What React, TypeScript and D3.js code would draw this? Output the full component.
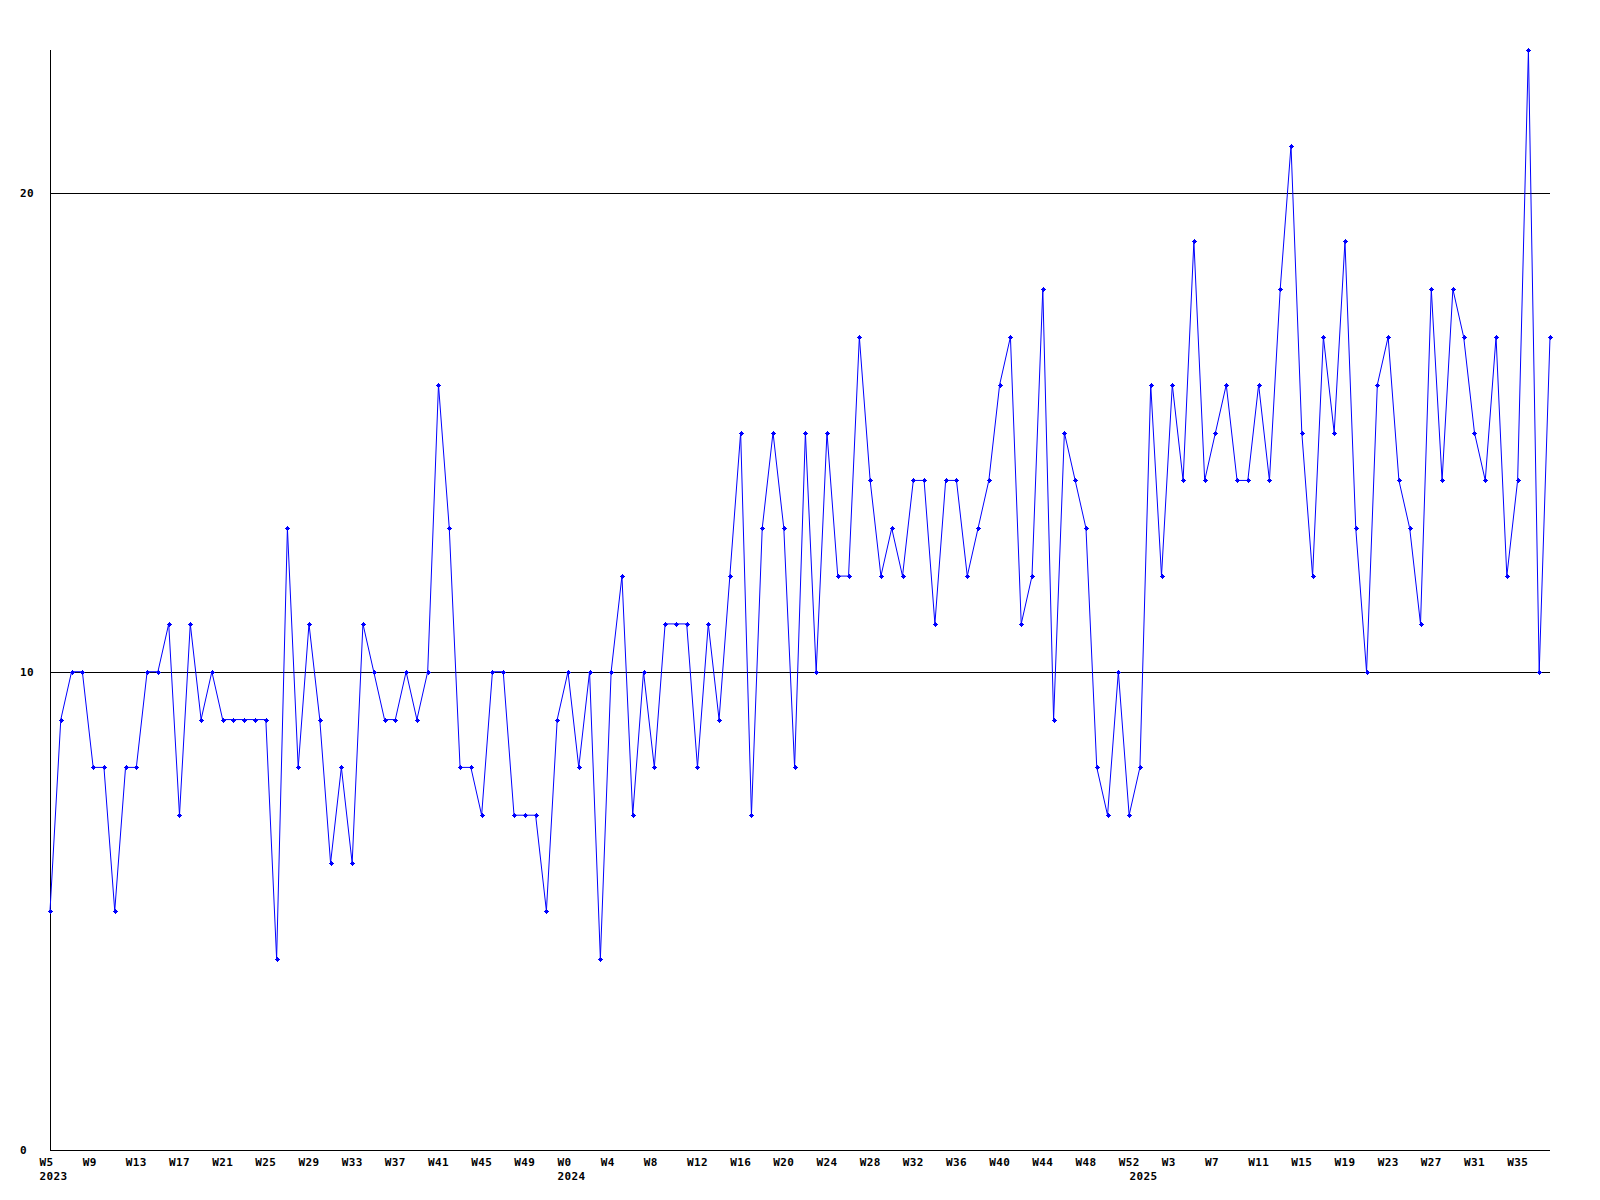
import React from "react";
import * as d3 from "d3";

// Weekly counts, one per week starting W5 2023
const values: number[] = [
  5, 9, 10, 10, 8, 8, 5, 8, 8, 10, 10, 11, 7, 11, 9, 10, 9, 9, 9, 9, 9, 4, 13, 8, 11, 9, 6, 8, 6, 11,
  10, 9, 9, 10, 9, 10, 16, 13, 8, 8, 7, 10, 10, 7, 7, 7, 5, 9, 10, 8, 10, 4, 10, 12, 7, 10, 8, 11, 11, 11,
  8, 11, 9, 12, 15, 7, 13, 15, 13, 8, 15, 10, 15, 12, 12, 17, 14, 12, 13, 12, 14, 14, 11, 14, 14, 12, 13, 14, 16, 17,
  11, 12, 18, 9, 15, 14, 13, 8, 7, 10, 7, 8, 16, 12, 16, 14, 19, 14, 15, 16, 14, 14, 16, 14, 18, 21, 15, 12, 17, 15,
  19, 13, 10, 16, 17, 14, 13, 11, 18, 14, 18, 17, 15, 14, 17, 12, 14, 23, 10, 17,
];

// Week tick labels, one every 4 weeks from the first point
const weekLabels: string[] = [
  "W5", "W9", "W13", "W17", "W21", "W25", "W29", "W33", "W37", "W41", "W45", "W49",
  "W0", "W4", "W8", "W12", "W16", "W20", "W24", "W28", "W32", "W36", "W40", "W44", "W48", "W52",
  "W3", "W7", "W11", "W15", "W19", "W23", "W27", "W31", "W35",
];
const weekLabelStep = 4;

const yearLabels: string[] = ["2023", "2024", "2025"];
const yearStartIndex: number[] = [0, 48, 101];

const yTicks: number[] = [0, 10, 20];
const gridValues: number[] = [10, 20];
const yMax = 23;

const W = 1600;
const H = 1200;
const left = 50;
const right = 1550;
const top = 50;
const bottom = 1150;

const FONT = "'DejaVu Sans Mono', 'Liberation Mono', monospace";

export default function App() {
  const x = d3.scaleLinear().domain([0, values.length - 1]).range([left, right]);
  const y = d3.scaleLinear().domain([0, yMax]).range([bottom, top]);
  const line = d3
    .line<number>()
    .x((_, i) => x(i))
    .y((d) => y(d));

  const marker = "M-2.5,-0.5h5v1h-5z M-0.5,-2.5h1v5h-1z M-1.5,-1.5h3v3h-3z";

  return (
    <div style={{ position: "absolute", left: 0, top: 0, width: W, height: H, background: "#fff" }}>
      <svg width={W} height={H} style={{ display: "block" }}>
        <rect x={0} y={0} width={W} height={H} fill="#fff" />
        {gridValues.map((g) => (
          <line key={g} x1={left} x2={right} y1={Math.round(y(g)) + 0.5} y2={Math.round(y(g)) + 0.5} stroke="#000" strokeWidth={1} shapeRendering="crispEdges" />
        ))}
        <line x1={left + 0.5} x2={left + 0.5} y1={top} y2={bottom} stroke="#000" strokeWidth={1} shapeRendering="crispEdges" />
        <line x1={left} x2={right} y1={bottom + 0.5} y2={bottom + 0.5} stroke="#000" strokeWidth={1} shapeRendering="crispEdges" />
        {yTicks.map((t) => (
          <text key={t} x={20} y={y(t)} dy="0.35em" fontFamily={FONT} fontWeight="bold" fontSize={11} letterSpacing={0.4} fill="#000">
            {t}
          </text>
        ))}
        {weekLabels.map((lab, k) => (
          <text key={lab + k} x={x(k * weekLabelStep) - 10.5} y={1166} fontFamily={FONT} fontWeight="bold" fontSize={11} letterSpacing={0.4} fill="#000">
            {lab}
          </text>
        ))}
        {yearLabels.map((lab, k) => (
          <text key={lab} x={x(yearStartIndex[k]) - 10.5} y={1180} fontFamily={FONT} fontWeight="bold" fontSize={11} letterSpacing={0.4} fill="#000">
            {lab}
          </text>
        ))}
        <path d={line(values) || ""} fill="none" stroke="#0000ff" strokeWidth={1} />
        {values.map((v, i) => (
          <path key={i} d={marker} transform={`translate(${Math.round(x(i)) + 0.5},${Math.round(y(v)) + 0.5})`} fill="#0000ff" shapeRendering="crispEdges" />
        ))}
      </svg>
    </div>
  );
}
